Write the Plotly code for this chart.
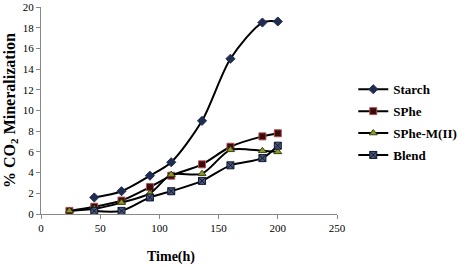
import plotly.graph_objects as go

starch_x = [45, 68, 92, 110, 136, 160, 187, 200]
starch_y = [1.6, 2.2, 3.7, 5.0, 9.0, 15.0, 18.5, 18.6]
sphe_x = [24, 45, 68, 92, 110, 136, 160, 187, 200]
sphe_y = [0.3, 0.7, 1.3, 2.6, 3.7, 4.8, 6.5, 7.5, 7.8]
sphem_x = [24, 45, 68, 92, 110, 136, 160, 187, 200]
sphem_y = [0.3, 0.5, 1.1, 2.0, 3.8, 3.9, 6.2, 6.1, 6.0]
blend_x = [45, 68, 92, 110, 136, 160, 187, 200]
blend_y = [0.3, 0.3, 1.6, 2.2, 3.2, 4.7, 5.4, 6.6]

x_ticks = [0, 50, 100, 150, 200, 250]
y_ticks = [0, 2, 4, 6, 8, 10, 12, 14, 16, 18, 20]

serif = "Liberation Serif, Times New Roman, serif"

fig = go.Figure()
series = [
    ("Starch", starch_x, starch_y, dict(symbol="diamond", size=7, color="#1f2d50", line=dict(color="#1f2d50", width=1))),
    ("SPhe", sphe_x, sphe_y, dict(symbol="square", size=7, color="#3a0c0c", line=dict(color="#b05050", width=1))),
    ("SPhe-M(II)", sphem_x, sphem_y, dict(symbol="triangle-up", size=7, color="#8c9a2c", line=dict(color="#3a4010", width=1))),
    ("Blend", blend_x, blend_y, dict(symbol="square-x", size=7, color="#4a5878", line=dict(color="#101830", width=1))),
]
for i, (name, xs, ys, mk) in enumerate(series):
    fig.add_trace(go.Scatter(
        x=xs, y=ys, name="<b>" + name + "</b>", mode="lines+markers",
        line=dict(color="black", width=2, shape="spline", smoothing=0.8),
        marker=mk, legendgroup=str(i),
    ))

fig.update_layout(
    width=469, height=266,
    margin=dict(l=41, r=132, t=7, b=52, autoexpand=False),
    paper_bgcolor="white", plot_bgcolor="white",
    showlegend=True,
    legend=dict(x=1.055, y=0.675, xanchor="left", yanchor="top",
                font=dict(family=serif, size=13, color="black"),
                tracegroupgap=2, itemwidth=30, bgcolor="rgba(0,0,0,0)"),
    font=dict(family=serif, size=11, color="black"),
    annotations=[dict(text="<b>Time(h)</b>", xref="paper", yref="paper",
                      x=(171 - 41) / 296, y=-(257 - 214) / 207,
                      xanchor="center", yanchor="middle", showarrow=False,
                      font=dict(family=serif, size=14, color="black"))],
)
fig.update_xaxes(
    range=[0, 250], tickvals=x_ticks, ticktext=[str(v) for v in x_ticks],
    showgrid=False, zeroline=False, showline=True, linecolor="#888888", linewidth=1,
    ticks="outside", ticklen=4, tickcolor="#888888",
    tickfont=dict(family=serif, size=11),
)
fig.update_yaxes(
    range=[0, 20], tickvals=y_ticks, ticktext=[str(v) for v in y_ticks],
    showgrid=False, zeroline=False, showline=True, linecolor="#888888", linewidth=1,
    ticks="outside", ticklen=4, tickcolor="#888888",
    tickfont=dict(family=serif, size=11),
    title=dict(text="<b>% CO<sub>2</sub> Mineralization</b>", font=dict(family=serif, size=16), standoff=3),
)
fig.write_html("out.html")
